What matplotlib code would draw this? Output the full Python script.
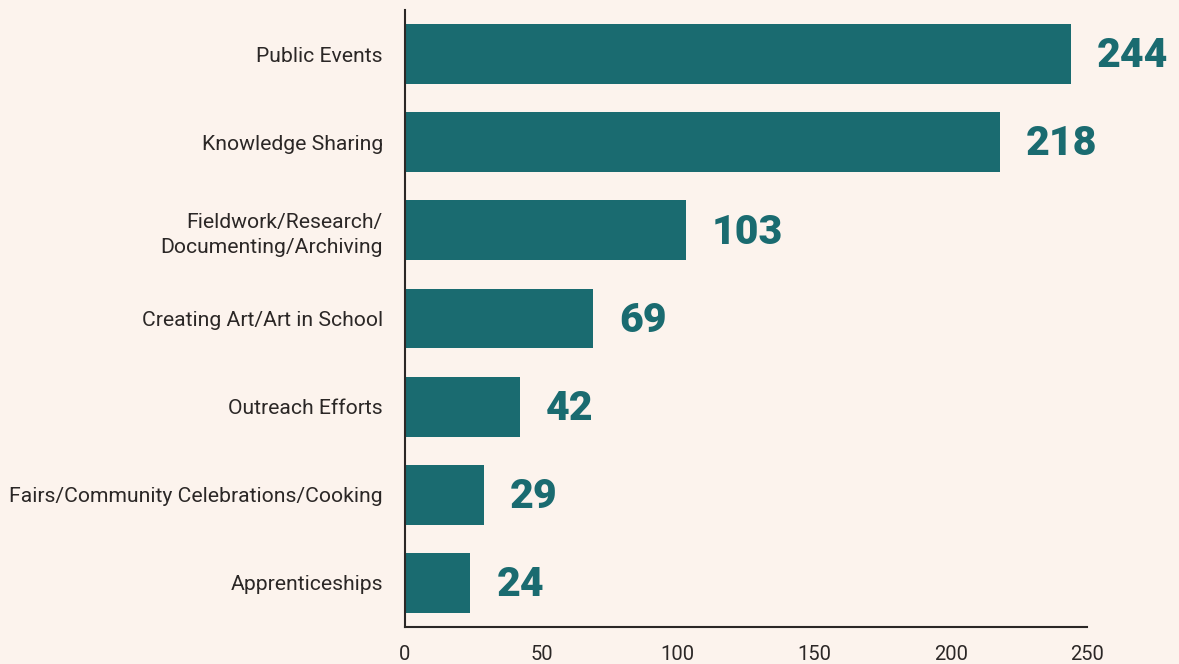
import matplotlib
matplotlib.use("Agg")
from matplotlib import pyplot as plt

categories = ["Public Events", "Knowledge Sharing",
              "Fieldwork/Research/\nDocumenting/Archiving",
              "Creating Art/Art in School", "Outreach Efforts",
              "Fairs/Community Celebrations/Cooking", "Apprenticeships"]
counts = [244, 218, 103, 69, 42, 29, 24]
x_ticks = [0, 50, 100, 150, 200, 250]

bg = "#fcf3ed"
teal = "#1a6b70"
ink = "#2b2726"

plt.rcParams["font.family"] = ["Roboto", "DejaVu Sans"]

fig = plt.figure(figsize=(11.79, 6.64), dpi=100, facecolor=bg)
ax = fig.add_axes([0.3435, 0.0557, 0.5785, 0.9293])
ax.set_facecolor(bg)

ypos = list(range(len(categories)))
ax.barh(ypos, counts, height=0.68, color=teal)

for y, v in zip(ypos, counts):
    ax.text(v + 9.5, y + 0.02, str(v), va="center", ha="left", color=teal,
            fontsize=29.5, fontweight="heavy", clip_on=False)

ax.set_xlim(0, 250)
ax.set_ylim(len(categories) - 0.5, -0.5)
ax.set_yticks(ypos)
ax.set_yticklabels(categories, fontsize=15.2, color=ink, linespacing=1.35)
ax.set_xticks(x_ticks)
ax.set_xticklabels([str(t) for t in x_ticks], fontsize=14.5, color=ink)
ax.tick_params(axis="y", length=0, pad=16)
ax.tick_params(axis="x", length=0, pad=13)

for s in ["top", "right"]:
    ax.spines[s].set_visible(False)
for s in ["left", "bottom"]:
    ax.spines[s].set_color(ink)
    ax.spines[s].set_linewidth(1.5)

fig.savefig("out.png", dpi=100, facecolor=bg)
